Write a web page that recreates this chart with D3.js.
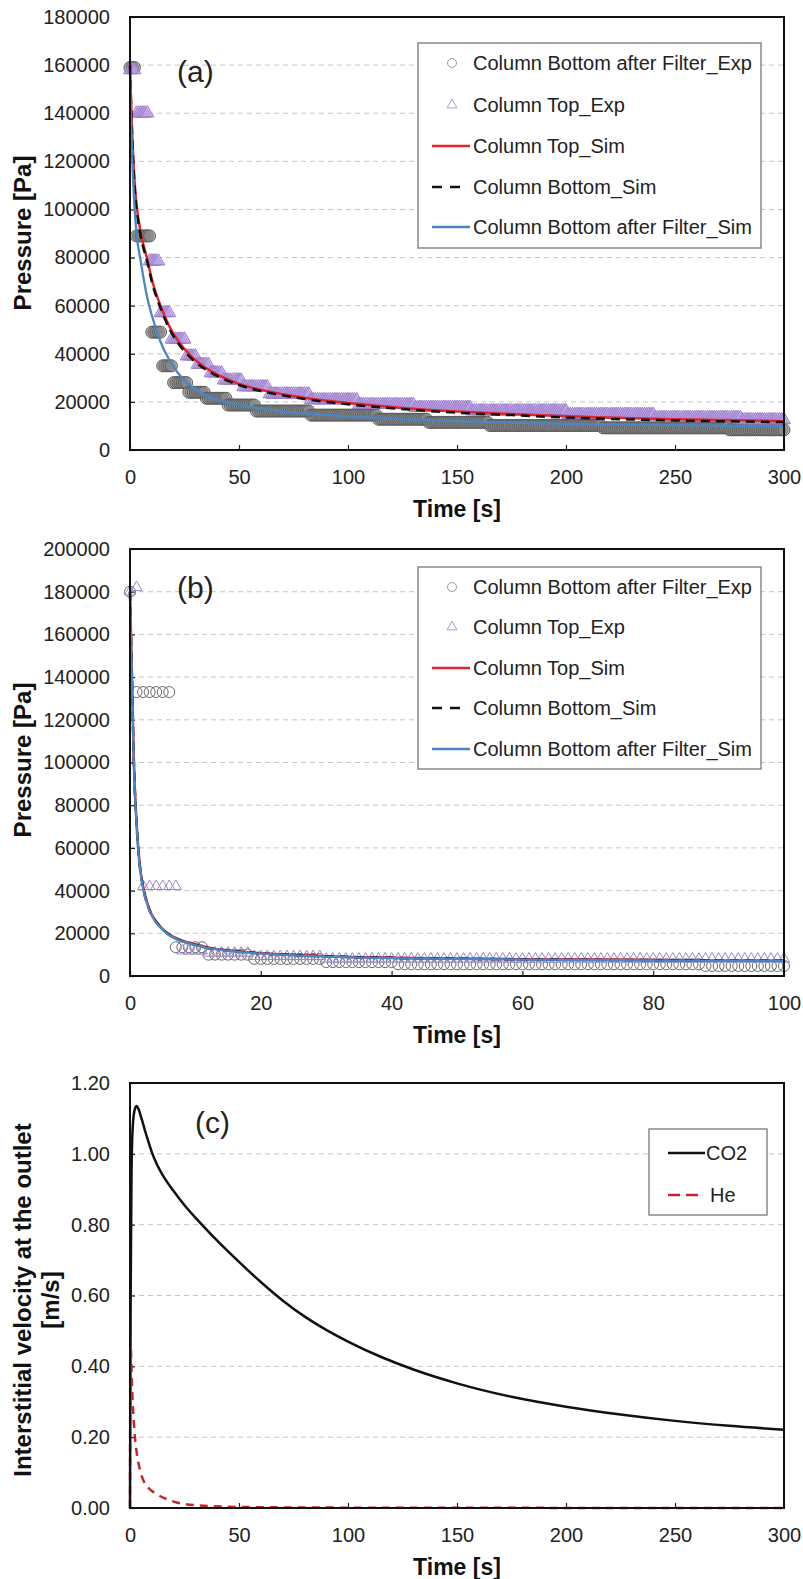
<!DOCTYPE html>
<html><head><meta charset="utf-8">
<script src="https://cdn.jsdelivr.net/npm/d3@7"></script>
<style>
body{margin:0;background:#fff;}
svg{display:block;}
text{font-family:"Liberation Sans",Arial,sans-serif;}
</style>
</head><body>
<svg id="chart" width="803" height="1579"></svg>
<script>
// ================= DATA =================
// ---- Panel (a): 0–300 s ----
const aTicksX = [0, 50, 100, 150, 200, 250, 300];
const aTicksY = [0, 20000, 40000, 60000, 80000, 100000, 120000, 140000, 160000, 180000];
const aSimT = [0,0.5,1,2,3,5,8,10,14,18,22,28,35,42,50,60,70,80,100,125,150,175,200,250,300];
const aTopSimP = [160000,145000,132000,113000,102000,90000,79000,71000,60000,51500,45500,39000,34000,30500,27500,25000,23200,21700,19500,17500,16000,15000,14000,12800,12000];
const aBottomSimP = [160000,143000,130000,111000,100500,88500,78000,70000,59000,50500,44500,38200,33300,29900,27000,24500,22700,21200,19000,17000,15500,14500,13500,12300,11600];
const aFilterSimP = [158000,138000,122000,102000,90000,78000,63000,56000,45000,37500,32000,26500,22500,20500,18800,17200,16000,15200,14000,12800,12000,11400,10900,10300,9900];
// experimental readings, 1 s logging, stored as held levels and the last second of each level
const aBottomExpLevel = [159000,89000,49000,35000,28000,24000,21500,18700,16200,14500,12800,11500,10200,9200,8400];
const aBottomExpEnd   = [2,9,14,19,26,34,44,57,82,113,136,164,216,274,300];
const aTopExpLevel = [158000,140000,78500,57000,46000,39000,35500,32000,29000,26200,23200,20800,18800,17600,16200,14700,13400,12500];
const aTopExpEnd   = [2,8,13,18,25,30,36,42,51,63,82,104,130,156,200,240,280,300];

// ---- Panel (b): 0–100 s ----
const bTicksX = [0, 20, 40, 60, 80, 100];
const bTicksY = [0, 20000, 40000, 60000, 80000, 100000, 120000, 140000, 160000, 180000, 200000];
const bSimT = [0,0.3,0.6,1,1.5,2,3,4,5,6,8,10,12,15,20,25,30,40,50,60,70,80,90,100];
const bTopSimP = [180000,140000,100000,72000,52000,42000,31000,25500,22000,19500,16500,14800,13300,12000,10700,9900,9300,8600,8200,7900,7700,7500,7300,7200];
const bBottomSimP = [180000,139000,99000,71500,51500,41500,30700,25300,21800,19300,16300,14600,13100,11900,10600,9800,9200,8500,8100,7800,7600,7400,7200,7100];
const bFilterSimP = [180000,138000,98000,71000,51000,41000,30500,25000,21600,19100,16200,14500,13000,11800,10500,9700,9100,8400,8000,7700,7500,7300,7100,7000];
const bBottomExpLevel = [180000,133000,13500,10000,8000,6500,5500,4700];
const bBottomExpEnd   = [0,6,11,18,29,40,87,100];
const bTopExpLevel = [180000,182000,42000,11800,10800,9200,8000];
const bTopExpEnd   = [0,1,7,11,18,29,100];

// ---- Panel (c): interstitial velocity ----
const cTicksX = [0, 50, 100, 150, 200, 250, 300];
const cTicksY = [0, 0.2, 0.4, 0.6, 0.8, 1.0, 1.2];
const co2T = [0,0.3,0.7,1.2,2,3,4,5,6,7,8,10,12,15,20,25,30,40,50,60,70,80,90,100,115,130,150,175,200,225,250,275,300];
const co2V = [0,0.6,0.95,1.07,1.12,1.135,1.125,1.105,1.085,1.063,1.043,1.005,0.975,0.94,0.895,0.855,0.82,0.755,0.695,0.638,0.586,0.541,0.503,0.47,0.427,0.391,0.352,0.314,0.286,0.264,0.246,0.232,0.221];
const heT = [0,0.15,1,2,3,4.5,6,8,12,16,20,30,50,100,300];
const heV = [0,0.48,0.33,0.22,0.16,0.11,0.08,0.06,0.04,0.027,0.018,0.008,0.003,0.001,0];

const pressureLegend = ["Column Bottom after Filter_Exp","Column Top_Exp","Column Top_Sim","Column Bottom_Sim","Column Bottom after Filter_Sim"];
const velocityLegend = ["CO2","He"];

// ================= HELPERS =================
function zipSeries(ts, vs){ return ts.map((t,i)=>({t:t, v:vs[i]})); }
function expandRuns(levels, ends){
  const out = []; let start = 0;
  levels.forEach((lv,i)=>{ for(let t=start;t<=ends[i];t++) out.push({t:t, v:lv}); start = ends[i]+1; });
  return out;
}

const svg = d3.select("#chart");
svg.append("rect").attr("width",803).attr("height",1579).attr("fill","#fff");

const L = 130, R = 784;
const RED = "#e5232b", BLUE = "#4a86c4", BLK = "#111";

function makePanel(cfg){
  const g = svg.append("g");
  const x = d3.scaleLinear().domain(cfg.xDomain).range([L, R]);
  const y = d3.scaleLinear().domain(cfg.yDomain).range([cfg.bottom, cfg.top]);
  g.append("g").selectAll("line").data(cfg.yTicks.filter(v=>v>cfg.yDomain[0] && v<cfg.yDomain[1]))
    .join("line").attr("x1",L).attr("x2",R).attr("y1",d=>y(d)).attr("y2",d=>y(d))
    .attr("stroke","#c6c6c6").attr("stroke-width",1).attr("stroke-dasharray","5,4");
  const ya = g.append("g").attr("transform",`translate(${L},0)`)
    .call(d3.axisLeft(y).tickValues(cfg.yTicks).tickSizeInner(-5).tickSizeOuter(0).tickPadding(20).tickFormat(cfg.yFmt));
  const xa = g.append("g").attr("transform",`translate(0,${cfg.bottom})`)
    .call(d3.axisBottom(x).tickValues(cfg.xTicks).tickSizeInner(-5).tickSizeOuter(0).tickPadding(20).tickFormat(d3.format("d")));
  [ya, xa].forEach(a=>{
    a.select(".domain").remove();
    a.selectAll(".tick line").attr("stroke","#222").attr("stroke-width",1.2);
    a.selectAll(".tick text").attr("font-size",20).attr("fill","#222").attr("font-family","'Liberation Sans',Arial,sans-serif");
  });
  return {g, x, y};
}

function frame(p, cfg){
  p.g.append("rect").attr("x",L).attr("y",cfg.top).attr("width",R-L).attr("height",cfg.bottom-cfg.top)
    .attr("fill","none").attr("stroke","#111").attr("stroke-width",2);
}

function lineGen(p){ return d3.line().x(d=>p.x(d.t)).y(d=>p.y(d.v)).curve(d3.curveMonotoneX); }

function titles(cfg, yLines, yCenter){
  svg.append("text").attr("x",(L+R)/2).attr("y",cfg.bottom+67).attr("text-anchor","middle")
    .attr("font-size",23).attr("font-weight","bold").attr("fill","#111").text("Time [s]");
  yLines.forEach((s,i)=>{
    svg.append("text").attr("transform",`translate(${31+i*28},${yCenter}) rotate(-90)`)
      .attr("text-anchor","middle").attr("font-size",24).attr("font-weight","bold").attr("fill","#111").text(s);
  });
}

function panelLabel(txt, x, y){
  svg.append("text").attr("x",x).attr("y",y).attr("font-family","'Open Sans','Noto Sans',sans-serif")
    .attr("font-size",30).attr("fill","#222").text(txt);
}

const tri = (side)=> d3.symbol().type(d3.symbolTriangle).size(side*side*Math.sqrt(3)/4)();

function pressurePanel(cfg, data, filled, legendBox){
  const p = makePanel(cfg);
  const circ = expandRuns(data.botLv, data.botEnd);
  const tris = expandRuns(data.topLv, data.topEnd);
  p.g.append("g").selectAll("circle").data(circ).join("circle")
    .attr("cx",d=>p.x(d.t)).attr("cy",d=>p.y(d.v)).attr("r",filled?6:5.5)
    .attr("fill",filled?"rgba(135,135,135,0.55)":"none").attr("stroke",filled?"#5c5c5c":"#6a6a6a").attr("stroke-width",1);
  p.g.append("g").selectAll("path").data(tris).join("path")
    .attr("transform",d=>`translate(${p.x(d.t)},${p.y(d.v)})`).attr("d",tri(filled?13:11))
    .attr("fill",filled?"rgba(186,160,228,0.6)":"none").attr("stroke",filled?"#9a7ccb":"#9b86c9").attr("stroke-width",1);
  const ln = lineGen(p);
  p.g.append("path").datum(zipSeries(data.simT, data.top)).attr("d",ln).attr("fill","none").attr("stroke",RED).attr("stroke-width",2.5);
  p.g.append("path").datum(zipSeries(data.simT, data.bot)).attr("d",ln).attr("fill","none").attr("stroke",BLK).attr("stroke-width",2.5).attr("stroke-dasharray","9,6");
  p.g.append("path").datum(zipSeries(data.simT, data.fil)).attr("d",ln).attr("fill","none").attr("stroke",BLUE).attr("stroke-width",2.3);
  frame(p, cfg);
  const lb = legendBox;
  const lg = svg.append("g");
  lg.append("rect").attr("x",lb.x0).attr("y",lb.y0).attr("width",lb.x1-lb.x0).attr("height",lb.y1-lb.y0)
    .attr("fill","#fff").attr("stroke","#777").attr("stroke-width",1.3);
  pressureLegend.forEach((name,i)=>{
    const yy = lb.rows[i];
    if(i===0) lg.append("circle").attr("cx",452).attr("cy",yy).attr("r",4.5).attr("fill","none").attr("stroke","#9a9a9a").attr("stroke-width",1);
    if(i===1) lg.append("path").attr("transform",`translate(452,${yy})`).attr("d",tri(10)).attr("fill","none").attr("stroke","#a99fd0").attr("stroke-width",1);
    if(i===2) lg.append("line").attr("x1",432).attr("x2",470).attr("y1",yy).attr("y2",yy).attr("stroke",RED).attr("stroke-width",2.5);
    if(i===3) lg.append("line").attr("x1",432).attr("x2",461).attr("y1",yy).attr("y2",yy).attr("stroke",BLK).attr("stroke-width",2.5).attr("stroke-dasharray","10,8");
    if(i===4) lg.append("line").attr("x1",432).attr("x2",470).attr("y1",yy).attr("y2",yy).attr("stroke",BLUE).attr("stroke-width",2.5);
    lg.append("text").attr("x",473).attr("y",yy+7).attr("font-size",20).attr("fill","#222").text(name);
  });
  return p;
}

// ---- Panel (a) ----
const cfgA = {xDomain:[0,300], yDomain:[0,180000], top:17, bottom:450, xTicks:aTicksX, yTicks:aTicksY, yFmt:d3.format("d")};
pressurePanel(cfgA, {simT:aSimT, top:aTopSimP, bot:aBottomSimP, fil:aFilterSimP,
  botLv:aBottomExpLevel, botEnd:aBottomExpEnd, topLv:aTopExpLevel, topEnd:aTopExpEnd}, true,
  {x0:418, x1:761, y0:43, y1:248, rows:[63,105,146,187,227]});
titles(cfgA, ["Pressure [Pa]"], 233);
panelLabel("(a)", 177, 82);

// ---- Panel (b) ----
const cfgB = {xDomain:[0,100], yDomain:[0,200000], top:549, bottom:976, xTicks:bTicksX, yTicks:bTicksY, yFmt:d3.format("d")};
pressurePanel(cfgB, {simT:bSimT, top:bTopSimP, bot:bBottomSimP, fil:bFilterSimP,
  botLv:bBottomExpLevel, botEnd:bBottomExpEnd, topLv:bTopExpLevel, topEnd:bTopExpEnd}, false,
  {x0:418, x1:761, y0:567, y1:769, rows:[587,627,668,708,749]});
titles(cfgB, ["Pressure [Pa]"], 760);
panelLabel("(b)", 177, 598);

// ---- Panel (c) ----
const cfgC = {xDomain:[0,300], yDomain:[0,1.2], top:1083, bottom:1508, xTicks:cTicksX, yTicks:cTicksY, yFmt:d3.format(".2f")};
const pc = makePanel(cfgC);
const lnC = lineGen(pc);
pc.g.append("path").datum(zipSeries(co2T, co2V)).attr("d",lnC).attr("fill","none").attr("stroke",BLK).attr("stroke-width",2.5);
pc.g.append("path").datum(zipSeries(heT, heV)).attr("d",lnC).attr("fill","none").attr("stroke","#c4262c").attr("stroke-width",2.5).attr("stroke-dasharray","8,6");
frame(pc, cfgC);
titles(cfgC, ["Interstitial velocity at the outlet","[m/s]"], 1300);
panelLabel("(c)", 195, 1133);
const lc = svg.append("g");
lc.append("rect").attr("x",649).attr("y",1129).attr("width",118).attr("height",86).attr("fill","#fff").attr("stroke","#777").attr("stroke-width",1.3);
lc.append("line").attr("x1",668).attr("x2",705).attr("y1",1153).attr("y2",1153).attr("stroke",BLK).attr("stroke-width",2.5);
lc.append("text").attr("x",706).attr("y",1160).attr("font-size",20).attr("fill","#222").text(velocityLegend[0]);
lc.append("line").attr("x1",668).attr("x2",698).attr("y1",1195).attr("y2",1195).attr("stroke","#c4262c").attr("stroke-width",2.5).attr("stroke-dasharray","12,6");
lc.append("text").attr("x",710).attr("y",1202).attr("font-size",20).attr("fill","#222").text(velocityLegend[1]);
</script>
</body></html>
